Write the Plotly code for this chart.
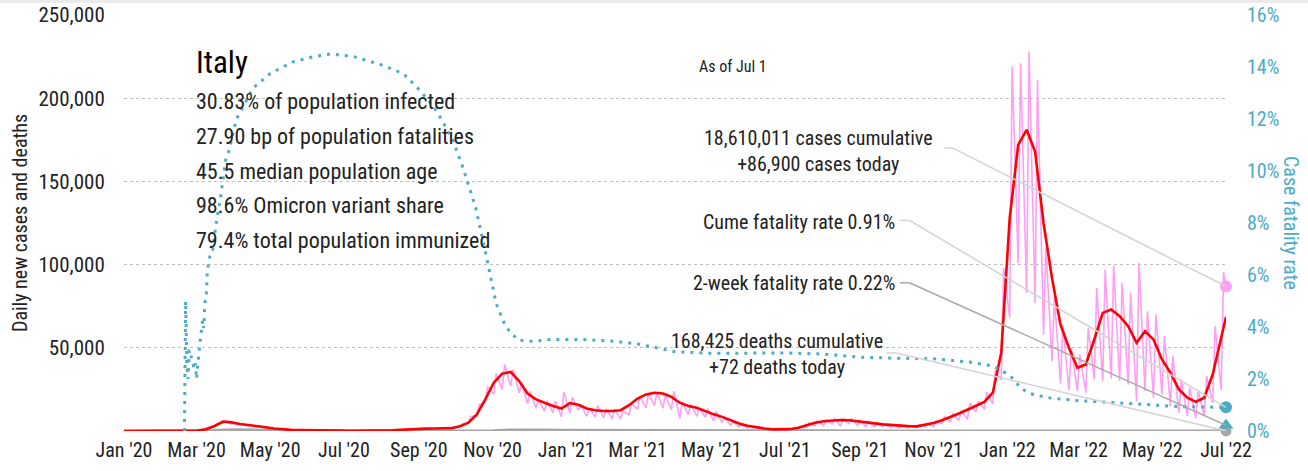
import pandas as pd
import plotly.graph_objects as go

# ---------------- data ----------------
week_start = "2020-02-24"  # first Monday of the weekly samples

# 7-day average of new cases, sampled on Mondays
avg_cases = [
    30, 230, 1100, 3000, 5700, 5200, 4200, 3700, 3000, 2300,
    1500, 1000, 650, 500, 350, 280, 270, 220, 200, 190,
    190, 220, 250, 300, 420, 650, 1000, 1300, 1450, 1500,
    1550, 1700, 2800, 5000, 10000, 19000, 29000, 34500, 35500, 30000,
    22500, 19000, 17000, 15000, 13500,
    16800, 15800, 13500, 12500, 12000, 12000, 12500, 15500, 19500, 22000,
    23000, 22500, 20500, 17000, 15000, 14000, 12000, 10000, 8500, 6500,
    4500, 3200, 2200, 1500, 1000, 850, 1100, 2000, 3500, 5000,
    5900, 6400, 6600, 6500, 6000, 5200, 4600, 4000, 3500, 3100,
    2900, 2800, 3700, 4800, 6500, 8300, 10500, 12800, 15000, 17500,
    23000, 47000,
    128000, 172000, 181000, 168000, 125000, 92000, 64000, 50000, 38000, 40000,
    55000, 71000, 73000, 69000, 63000, 53000, 60000, 55000, 43000, 35000,
    25000, 20000, 17500, 20000, 34000, 55000,
]
avg_cases_last = 68500

# daily new cases: Monday (low) and Wednesday (high) readings
daily_mon = [
    50, 350, 1800, 3200, 4800, 4000, 3600, 2900, 2300, 1700,
    1200, 740, 450, 300, 180, 200, 210, 120, 140, 110,
    110, 130, 170, 190, 260, 400, 950, 990, 1100, 1000,
    1300, 1500, 2300, 4600, 9300, 17000, 22000, 25000, 27000, 22900,
    16400, 13700, 12000, 10900, 8600,
    10800, 12500, 8800, 8500, 7900, 7300, 7300, 9600, 13100, 13900,
    15300, 13800, 12900, 7800, 9800, 8900, 8400, 6000, 5100, 3500,
    2500, 1800, 1300, 900, 500, 400, 500, 900, 2100, 3100,
    3200, 4200, 3000, 4300, 3300, 2500, 2400, 2400, 2000, 1800,
    1900, 2000, 2500, 2600, 4400, 5600, 6400, 7000, 11600, 13200,
    16200, 30800,
    68000, 101000, 83000, 77000, 58000, 42000, 28600, 24400, 24000, 23000,
    31000, 30000, 31500, 30000, 28000, 18000, 24000, 20000, 22000, 15000,
    11000, 9000, 7800, 9000, 17000, 24700,
]
daily_wed = [
    100, 600, 2300, 4200, 6200, 4800, 4200, 3800, 3300, 2100,
    1400, 990, 660, 590, 320, 380, 330, 300, 200, 230,
    230, 280, 380, 400, 550, 840, 1400, 1400, 1600, 1600,
    1650, 2500, 4400, 8800, 16000, 26800, 34500, 40000, 37000, 29000,
    24000, 18700, 18200, 18000, 23500,
    20300, 15800, 13600, 15200, 13200, 12900, 12000, 16400, 20800, 22400,
    23100, 21300, 23900, 17200, 16200, 13800, 13400, 11800, 8100, 5500,
    3900, 2900, 2200, 1400, 1000, 880, 1400, 2500, 5000, 6200,
    6600, 7400, 7300, 7500, 6500, 5900, 5100, 4200, 3700, 3300,
    3000, 3700, 4600, 5900, 8600, 10600, 12400, 16800, 17900, 23200,
    36300, 98000,
    219000, 221000, 228000, 211000, 110000, 80000, 64000, 50000, 46000, 62000,
    86000, 97000, 99500, 89000, 83000, 101000, 72000, 70000, 57000, 45000,
    31000, 26000, 24000, 33000, 63000, 95500,
]
daily_last = 86900  # Jul 1, 2022

# daily deaths (approximate daily level)
death_dates = [
    "2020-01-01", "2020-02-20", "2020-03-01", "2020-03-15", "2020-04-01", "2020-04-15",
    "2020-05-01", "2020-05-15", "2020-06-01", "2020-07-01", "2020-08-01", "2020-09-01",
    "2020-10-01", "2020-10-15", "2020-11-01", "2020-11-15", "2020-12-01", "2020-12-15",
    "2021-01-01", "2021-02-01", "2021-03-01", "2021-03-15", "2021-04-01", "2021-04-15",
    "2021-05-01", "2021-05-15", "2021-06-01", "2021-07-01", "2021-08-01", "2021-09-01",
    "2021-10-01", "2021-11-01", "2021-12-01", "2022-01-01", "2022-01-15", "2022-02-01",
    "2022-02-15", "2022-03-01", "2022-04-01", "2022-05-01", "2022-06-01", "2022-07-01",
]
deaths = [
    0, 0, 5, 250, 800, 550, 300, 180, 70, 20, 10, 10,
    20, 50, 200, 550, 750, 650, 500, 400, 300, 380, 450, 380,
    250, 180, 80, 25, 20, 50, 45, 40, 70, 150, 300, 350,
    250, 180, 150, 130, 80, 72,
]

# cumulative case fatality rate, %
cfr_dates = [
    "2020-02-20", "2020-02-21", "2020-02-22", "2020-02-23", "2020-02-24", "2020-02-25",
    "2020-02-26", "2020-02-27", "2020-02-28", "2020-02-29", "2020-03-01", "2020-03-02",
    "2020-03-03", "2020-03-04", "2020-03-05", "2020-03-06", "2020-03-07", "2020-03-08",
    "2020-03-09", "2020-03-10", "2020-03-12", "2020-03-14", "2020-03-17", "2020-03-21",
    "2020-03-25", "2020-03-28", "2020-04-03", "2020-04-17", "2020-05-01", "2020-05-20",
    "2020-06-06", "2020-06-20", "2020-07-09", "2020-07-31", "2020-08-19", "2020-09-02",
    "2020-09-16", "2020-09-29", "2020-10-07", "2020-10-18", "2020-10-27", "2020-11-04",
    "2020-11-12", "2020-11-22", "2020-12-03", "2020-12-20", "2021-01-15", "2021-02-10",
    "2021-03-01", "2021-04-01", "2021-05-01", "2021-06-01", "2021-07-01", "2021-08-01",
    "2021-09-01", "2021-10-01", "2021-11-01", "2021-12-01", "2021-12-20", "2022-01-01",
    "2022-01-06", "2022-01-12", "2022-01-20", "2022-02-03", "2022-02-28", "2022-03-28",
    "2022-04-25", "2022-05-23", "2022-07-01",
]
cfr = [
    0.0, 5.0, 2.5, 2.0, 3.1, 3.1,
    2.7, 2.6, 2.4, 2.6, 2.0, 2.55,
    3.16, 3.46, 3.84, 4.25, 3.96, 4.96,
    5.05, 6.2, 6.7, 6.8, 7.9, 9.0,
    10.4, 10.8, 12.0, 13.2, 13.75, 14.2,
    14.4, 14.5, 14.4, 14.1, 13.75, 13.1,
    12.3, 11.2, 10.2, 8.6, 6.7, 4.9,
    4.0, 3.5, 3.45, 3.52, 3.52, 3.45,
    3.35, 3.05, 2.99, 2.99, 3.0, 2.96,
    2.84, 2.80, 2.78, 2.65, 2.5, 2.2,
    2.0, 1.65, 1.44, 1.28, 1.17, 1.1,
    1.02, 0.94, 0.91,
]
cfr_2week_last = 0.22

last_date = "2022-07-01"

stats_lines = [
    "30.83% of population infected",
    "27.90 bp of population fatalities",
    "45.5 median population age",
    "98.6% Omicron variant share",
    "79.4% total population immunized",
]
y_ticks = [50000, 100000, 150000, 200000, 250000]
y2_ticks = [0, 2, 4, 6, 8, 10, 12, 14, 16]

# ---------------- build series ----------------
mondays = pd.date_range(week_start, periods=len(avg_cases), freq="7D")
wednesdays = mondays + pd.Timedelta(days=2)

red_x = [pd.Timestamp("2020-01-01"), pd.Timestamp("2020-02-17")] + list(mondays) + [pd.Timestamp(last_date)]
red_y = [0, 0] + avg_cases + [avg_cases_last]

pink_x = [pd.Timestamp("2020-01-01"), pd.Timestamp("2020-02-17")]
pink_y = [0, 0]
for m, w, lo, hi in zip(mondays, wednesdays, daily_mon, daily_wed):
    pink_x += [m, w]
    pink_y += [lo, hi]
pink_x.append(pd.Timestamp(last_date))
pink_y.append(daily_last)

FONT = "Liberation Sans Narrow, Arial Narrow, Roboto Condensed, DejaVu Sans Condensed, sans-serif"
TEAL = "#4BACC6"
PINK = "#FF9EF5"
RED = "#FF0000"
GRAY = "#A6A6A6"
TXT = "#222222"

fig = go.Figure()
fig.add_trace(go.Scatter(x=pd.to_datetime(death_dates), y=deaths, mode="lines",
                         line=dict(color=GRAY, width=3), hoverinfo="skip"))
fig.add_trace(go.Scatter(x=pink_x, y=pink_y, mode="lines",
                         line=dict(color=PINK, width=1.6), hoverinfo="skip"))
fig.add_trace(go.Scatter(x=red_x, y=red_y, mode="lines",
                         line=dict(color=RED, width=2.6), hoverinfo="skip"))
fig.add_trace(go.Scatter(x=pd.to_datetime(cfr_dates), y=cfr, mode="lines", yaxis="y2",
                         line=dict(color=TEAL, width=3, dash="3px,6px"), hoverinfo="skip"))

# end-of-series markers
fig.add_trace(go.Scatter(x=[last_date], y=[daily_last], mode="markers", cliponaxis=False,
                         marker=dict(color=PINK, size=12)))
fig.add_trace(go.Scatter(x=[last_date], y=[deaths[-1]], mode="markers", cliponaxis=False,
                         marker=dict(color=GRAY, size=11)))
fig.add_trace(go.Scatter(x=[last_date], y=[cfr[-1]], mode="markers", yaxis="y2", cliponaxis=False,
                         marker=dict(color=TEAL, size=12)))
fig.add_trace(go.Scatter(x=[last_date], y=[cfr_2week_last], mode="markers", yaxis="y2", cliponaxis=False,
                         marker=dict(color=TEAL, size=13, symbol="triangle-up")))

# leader lines: (label start date, elbow date, label level, axis, end value, colour)
leaders = [
    ("2021-11-10", "2021-11-17", 170000, "y", daily_last, "#D3D3D3"),
    ("2021-10-04", "2021-10-12", 8.1, "y2", cfr[-1], "#D3D3D3"),
    ("2021-10-04", "2021-10-12", 5.7, "y2", cfr_2week_last, "#A9A9A9"),
    ("2021-09-23", "2021-10-01", 46900, "y", deaths[-1], "#D3D3D3"),
]
for x0, x1, lvl, ax, end, col in leaders:
    fig.add_shape(type="line", xref="x", yref=ax, x0=x0, x1=x1, y0=lvl, y1=lvl,
                  line=dict(color=col, width=1.5))
    fig.add_shape(type="line", xref="x", yref=ax, x0=x1, x1=last_date, y0=lvl, y1=end,
                  line=dict(color=col, width=1.5))

# thin grey band at the very top
fig.add_shape(type="rect", xref="paper", yref="paper", x0=-0.2, x1=1.2, y0=1.0288, y1=1.04,
              line=dict(width=0), fillcolor="#EBEBEB")

ann = []
ann.append(dict(text="Italy", x=0.0635, y=0.887, xref="paper", yref="paper", xanchor="left",
                yanchor="middle", showarrow=False, font=dict(size=31, color="#000000", family=FONT)))
for t, yy in zip(stats_lines, [0.793, 0.709, 0.625, 0.541, 0.459]):
    ann.append(dict(text=t, x=0.0635, y=yy, xref="paper", yref="paper", xanchor="left",
                    yanchor="middle", showarrow=False, font=dict(size=22, color=TXT, family=FONT)))
ann.append(dict(text="As of Jul 1", x=0.52, y=0.877, xref="paper", yref="paper", xanchor="left",
                yanchor="middle", showarrow=False, font=dict(size=16, color=TXT, family=FONT)))
ann.append(dict(text="18,610,011 cases cumulative<br>+86,900 cases today", x=0.63, y=0.674,
                xref="paper", yref="paper", xanchor="center", yanchor="middle", align="center",
                showarrow=False, font=dict(size=20, color=TXT, family=FONT)))
ann.append(dict(text="Cume fatality rate 0.91%", x=0.7015, y=0.502, xref="paper", yref="paper",
                xanchor="right", yanchor="middle", showarrow=False,
                font=dict(size=20, color=TXT, family=FONT)))
ann.append(dict(text="2-week fatality rate 0.22%", x=0.7015, y=0.356, xref="paper", yref="paper",
                xanchor="right", yanchor="middle", showarrow=False,
                font=dict(size=20, color=TXT, family=FONT)))
ann.append(dict(text="168,425 deaths cumulative<br>+72 deaths today", x=0.5926, y=0.185,
                xref="paper", yref="paper", xanchor="center", yanchor="middle", align="center",
                showarrow=False, font=dict(size=20, color=TXT, family=FONT)))
ann.append(dict(text="Daily new cases and deaths", x=-0.0944, y=0.5, xref="paper", yref="paper",
                xanchor="center", yanchor="middle", textangle=-90, showarrow=False,
                font=dict(size=20, color=TXT, family=FONT)))
ann.append(dict(text="Case fatality rate", x=1.059, y=0.5, xref="paper", yref="paper",
                xanchor="center", yanchor="middle", textangle=90, showarrow=False,
                font=dict(size=20, color=TEAL, family=FONT)))

fig.update_layout(
    width=1308, height=471,
    margin=dict(l=124, r=82, t=15, b=40, autoexpand=False),
    plot_bgcolor="white", paper_bgcolor="white",
    showlegend=False,
    font=dict(family=FONT, color=TXT),
    annotations=ann,
    xaxis=dict(type="date", range=["2020-01-01", last_date], tickformat="%b '%y",
               dtick="M2", tick0="2020-01-01", showgrid=False, zeroline=False, showline=False,
               ticks="outside", ticklen=1, tickcolor="rgba(0,0,0,0)", automargin=False,
               tickfont=dict(size=20, color=TXT, family=FONT)),
    yaxis=dict(range=[0, 250000], tickvals=y_ticks, ticktext=[f"{v:,}" for v in y_ticks],
               showgrid=True, gridcolor="#BFBFBF", griddash="dot", gridwidth=1,
               zeroline=False, showline=False, ticks="outside", ticklen=14, automargin=False,
               tickcolor="rgba(0,0,0,0)", tickfont=dict(size=21, color=TXT, family=FONT)),
    yaxis2=dict(range=[0, 16], overlaying="y", side="right", tickvals=y2_ticks,
                ticktext=[f"{v}%" for v in y2_ticks], showgrid=False, zeroline=False,
                showline=False, ticks="outside", ticklen=16, tickcolor="rgba(0,0,0,0)",
                automargin=False, tickfont=dict(size=20, color=TEAL, family=FONT)),
)

fig.write_html("out.html", config={"displayModeBar": False},
               post_script="document.body.style.margin='0px';")
